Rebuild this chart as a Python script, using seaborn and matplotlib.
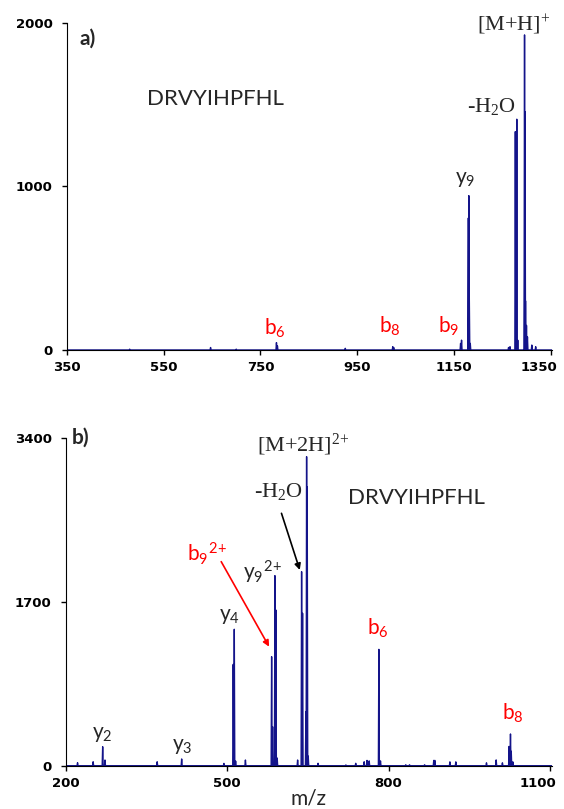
import numpy as np
import pandas as pd
import matplotlib
matplotlib.use("Agg")
import matplotlib.pyplot as plt
import matplotlib.transforms as mtransforms
import seaborn as sns

# ---data--- #
# panel a): singly charged precursor spectrum (m/z, intensity)
top_mz = [480, 647, 700, 783, 785, 925, 1023, 1025, 1163, 1165, 1179, 1180, 1181, 1183,
          1262, 1265, 1276, 1279, 1281, 1295, 1296, 1297, 1299, 1301, 1310, 1318]
top_int = [5, 15, 5, 45, 25, 10, 20, 15, 40, 60, 806, 943, 317, 40,
           15, 20, 1334, 1410, 60, 1925, 1456, 300, 150, 80, 30, 20]

# panel b): doubly charged precursor spectrum (m/z, intensity)
bot_mz = [222, 251, 268.7, 273, 370, 415.5, 494, 511.3, 513.3, 515.8, 534,
          582.7, 584.5, 588.8, 590.6, 593, 631, 638.4, 640.2, 646.4, 647.7, 648.8, 650.7,
          669, 720.7, 739, 754.7, 760, 764, 782, 785, 832, 839, 867, 884, 886,
          914, 925, 982, 1000, 1011.6, 1024, 1026.6, 1028, 1031]
bot_int = [31, 41, 197, 59, 41, 70, 24, 1050, 1414, 48, 59,
           1130, 404, 1970, 1614, 80, 59, 2011, 1580, 560, 3203, 2892, 100,
           25, 8, 25, 41, 55, 50, 1206, 50, 10, 10, 10, 55, 55,
           40, 40, 30, 60, 30, 200, 329, 150, 40]

top_ticks = [350, 550, 750, 950, 1150, 1350]
bot_ticks = [200, 500, 800, 1100]
seq = "DRVYIHPFHL"

line_color = "#14148a"
sans = ["Lato", "DejaVu Sans"]
serif = ["Liberation Serif", "DejaVu Serif"]


def profile(mz, inten, lo, hi, hw):
    # stick peaks -> profile trace on a zero baseline
    xs, ys = [lo], [0]
    for m, h in sorted(zip(mz, inten)):
        xs += [m - hw, m, m + hw]
        ys += [0, h, 0]
    xs.append(hi)
    ys.append(0)
    return pd.DataFrame({"mz": xs, "intensity": ys})


def style_axes(ax, xlim, ylim, xticks, yticks):
    ax.set_xlim(*xlim)
    ax.set_ylim(*ylim)
    ax.set_xticks(xticks)
    ax.set_yticks(yticks)
    ax.set_xlabel("")
    ax.set_ylabel("")
    sns.despine(ax=ax)
    for lab in ax.get_xticklabels() + ax.get_yticklabels():
        lab.set_fontweight("bold")
        lab.set_family("DejaVu Sans")
        lab.set_fontsize(9.5)
    ax.tick_params(length=3.6, width=1, colors="black")
    ax.tick_params(axis="x", pad=4.5)
    ax.tick_params(axis="y", pad=6.5)
    ax.spines["left"].set_color("black")
    ax.spines["bottom"].set_color("black")
    # last x label pulled inside the figure, like the original
    last = ax.get_xticklabels()[-1]
    last.set_transform(last.get_transform() +
                       mtransforms.ScaledTranslation(-12 / 100, 0, fig.dpi_scale_trans))


# ---plot--- #
sns.set_style("ticks")
plt.rcParams["mathtext.default"] = "regular"
plt.rcParams["font.family"] = sans

fig = plt.figure(figsize=(5.64, 8.09), dpi=100)
ax1 = fig.add_axes([0.1182, 0.5674, 0.8608, 0.4046])
ax2 = fig.add_axes([0.1165, 0.0535, 0.8615, 0.4055])

df1 = profile(top_mz, top_int, 350, 1352, 1.0)
sns.lineplot(data=df1, x="mz", y="intensity", ax=ax1, sort=False, estimator=None,
             color=line_color, linewidth=1.0)
style_axes(ax1, (350, 1352), (0, 2000), top_ticks, [0, 1000, 2000])

df2 = profile(bot_mz, bot_int, 200, 1103, 0.9)
sns.lineplot(data=df2, x="mz", y="intensity", ax=ax2, sort=False, estimator=None,
             color=line_color, linewidth=1.0)
style_axes(ax2, (200, 1103), (0, 3400), bot_ticks, [0, 1700, 3400])
ax2.set_xlabel("m/z", fontsize=15, family=sans, labelpad=-1)

# ---labels panel a--- #
ax1.text(377, 1900, "a)", fontsize=15, fontweight="bold", va="center", ha="left")
ax1.text(516, 1534, seq, fontsize=16, va="center", ha="left")
ax1.text(779, 92, "b$_6$", fontsize=15, color="red", ha="center", va="baseline")
ax1.text(1017, 106, "b$_8$", fontsize=15, color="red", ha="center", va="baseline")
ax1.text(1138, 104, "b$_9$", fontsize=15, color="red", ha="center", va="baseline")
ax1.text(1172, 1022, "y$_9$", fontsize=15, ha="center", va="baseline")
ax1.text(1226, 1456, "-H$_2$O", fontsize=16, family=serif, ha="center", va="baseline")
ax1.text(1273, 1951, "[M+H$]^{+}$", fontsize=16, family=serif, ha="center", va="baseline",
         clip_on=False)

# ---labels panel b--- #
ax2.text(212, 3400, "b)", fontsize=15, fontweight="bold", va="center", ha="left",
         clip_on=False)
ax2.text(642, 3255, r"[M+2H$]^{2\!+}$", fontsize=16, family=serif, ha="center",
         va="baseline")
ax2.text(595, 2782, "-H$_2$O", fontsize=16, family=serif, ha="center", va="baseline")
ax2.text(724, 2772, seq, fontsize=16, va="center", ha="left")
ax2.text(425, 2115, r"b$_9{}^{2\!+}$", fontsize=15, color="red", ha="left", va="baseline")
ax2.text(529, 1932, r"y$_9{}^{2\!+}$", fontsize=15, ha="left", va="baseline")
ax2.text(485, 1510, "y$_4$", fontsize=15, ha="left", va="baseline")
ax2.text(248, 284, "y$_2$", fontsize=15, ha="left", va="baseline")
ax2.text(397, 163, "y$_3$", fontsize=15, ha="left", va="baseline")
ax2.text(760, 1362, "b$_6$", fontsize=15, color="red", ha="left", va="baseline")
ax2.text(1010, 474, "b$_8$", fontsize=15, color="red", ha="left", va="baseline")

ax2.annotate("", xy=(578, 1234), xytext=(489, 2115),
             arrowprops=dict(arrowstyle="-|>", color="red", lw=1.2, mutation_scale=9,
                             shrinkA=0, shrinkB=0))
ax2.annotate("", xy=(635, 2029), xytext=(601, 2616),
             arrowprops=dict(arrowstyle="-|>", color="black", lw=1.2, mutation_scale=9,
                             shrinkA=0, shrinkB=0))

plt.savefig("out.png", dpi=100)
